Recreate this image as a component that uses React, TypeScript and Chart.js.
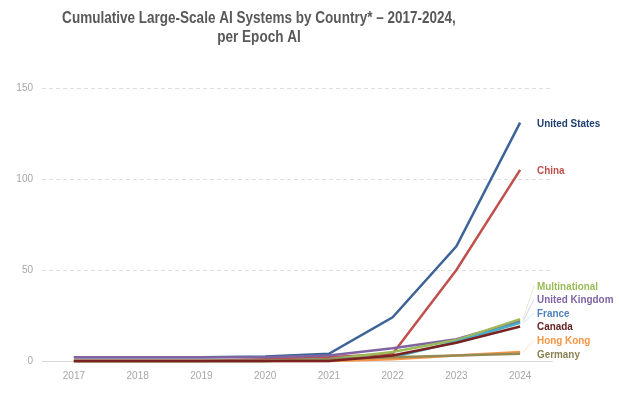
import React, { useEffect, useRef } from "react";
import { Chart, registerables } from "chart.js";

Chart.register(...registerables);

const years = ["2017", "2018", "2019", "2020", "2021", "2022", "2023", "2024"];
const unitedStates = [2, 2, 2, 2.5, 4, 24, 63, 131];
const china = [0, 0, 0, 1, 2, 4, 50, 105];
const multinational = [0, 0, 0, 0, 1, 5, 11.5, 23];
const unitedKingdom = [2, 2, 2, 2, 3, 7, 12, 22];
const france = [0, 0, 0, 0, 1, 2, 10.6, 21];
const canada = [0, 0, 0, 0, 0, 3, 10, 19];
const hongKong = [0, 0, 0, 0, 0, 1, 3, 5];
const germany = [0, 0, 0, 0, 1, 2, 3, 4];
const yTicks = [0, 50, 100, 150];

const titleLines = ["Cumulative Large-Scale AI Systems by Country* \u2013 2017-2024,", "per Epoch AI"];
const SANS = "'Liberation Sans', Arial, sans-serif";

const series = [
  { name: "Canada", data: canada, line: "#7a2222", label: "#632523" },
  { name: "Germany", data: germany, line: "#948a54", label: "#8a8050" },
  { name: "Hong Kong", data: hongKong, line: "#f79646", label: "#f79646" },
  { name: "France", data: france, line: "#4bacc6", label: "#4f81bd" },
  { name: "Multinational", data: multinational, line: "#9bbb59", label: "#9bbb59" },
  { name: "United Kingdom", data: unitedKingdom, line: "#8064a2", label: "#8064a2" },
  { name: "China", data: china, line: "#c0504d", label: "#c0504d" },
  { name: "United States", data: unitedStates, line: "#3c6496", label: "#1f3f6e" },
];

function narrowText(ctx: any, text: string, x: number, y: number, sx: number, align: string) {
  ctx.save();
  ctx.translate(x, y);
  ctx.scale(sx, 1);
  ctx.textAlign = align;
  ctx.fillText(text, 0, 0);
  ctx.restore();
}

const titlePlugin = {
  id: "customTitle",
  afterDraw(chart: any) {
    const ctx = chart.ctx;
    ctx.save();
    ctx.fillStyle = "#595959";
    ctx.font = `bold 16px ${SANS}`;
    ctx.textBaseline = "middle";
    narrowText(ctx, titleLines[0], 259, 19, 0.845, "center");
    narrowText(ctx, titleLines[1], 259, 38, 0.845, "center");
    ctx.restore();
  },
};

const endLabelPlugin = {
  id: "endLabels",
  afterDatasetsDraw(chart: any) {
    const ctx = chart.ctx;
    const items: any[] = [];
    chart.data.datasets.forEach((ds: any, i: number) => {
      const meta = chart.getDatasetMeta(i);
      const pt = meta.data[meta.data.length - 1];
      items.push({ x: pt.x, y: pt.y, name: ds.label, color: ds.labelColor, line: ds.borderColor });
    });
    items.sort((a, b) => b.y - a.y);
    let prev = Infinity;
    const gap = 13.6;
    items.forEach((it) => {
      it.ly = Math.min(it.y, prev - gap);
      prev = it.ly;
    });
    ctx.save();
    const lx = chart.chartArea.right - 15;
    items.forEach((it) => {
      if (Math.abs(it.ly - it.y) > 3) {
        ctx.strokeStyle = it.line;
        ctx.globalAlpha = 0.35;
        ctx.lineWidth = 0.8;
        ctx.beginPath();
        ctx.moveTo(it.x + 3, it.y);
        ctx.lineTo(lx - 3, it.ly);
        ctx.stroke();
        ctx.globalAlpha = 1;
      }
      ctx.fillStyle = it.color;
      ctx.font = `bold 11px ${SANS}`;
      ctx.textBaseline = "middle";
      narrowText(ctx, it.name, lx, it.ly + 1, 0.9, "left");
    });
    ctx.restore();
  },
};

export default function App() {
  const ref = useRef<HTMLCanvasElement>(null);
  useEffect(() => {
    document.body.style.margin = "0";
    const chart = new Chart(ref.current!, {
      type: "line",
      data: {
        labels: years,
        datasets: series.map((s) => ({
          label: s.name,
          data: s.data,
          borderColor: s.line,
          backgroundColor: s.line,
          labelColor: s.label,
          borderWidth: 2.5,
          pointRadius: 0,
          tension: 0,
          clip: false,
        })) as any,
      },
      options: {
        animation: false,
        responsive: true,
        maintainAspectRatio: false,
        layout: { padding: { left: 8, right: 67, top: 88, bottom: 0 } },
        plugins: { legend: { display: false }, title: { display: false }, tooltip: { enabled: false } },
        scales: {
          x: {
            offset: true,
            grid: { display: false, drawTicks: false },
            border: { display: true, color: "#d9d9d9", width: 1 },
            ticks: { color: "#a6a6a6", font: { family: SANS, size: 10 }, padding: 9 },
            afterFit: (scale: any) => { scale.height = 38; },
          },
          y: {
            min: 0,
            max: 150,
            afterBuildTicks: (scale: any) => { scale.ticks = yTicks.map((v) => ({ value: v })); },
            grid: { color: "#dedede", drawTicks: false, lineWidth: 1 },
            border: { display: false, dash: [4, 3] },
            ticks: { color: "#a6a6a6", font: { family: SANS, size: 10 }, padding: 9 },
            afterFit: (scale: any) => { scale.width = 34; },
          },
        },
      },
      plugins: [titlePlugin, endLabelPlugin],
    });
    return () => chart.destroy();
  }, []);
  return (
    <div style={{ width: 619, height: 399, position: "relative" }}>
      <canvas ref={ref} />
    </div>
  );
}
